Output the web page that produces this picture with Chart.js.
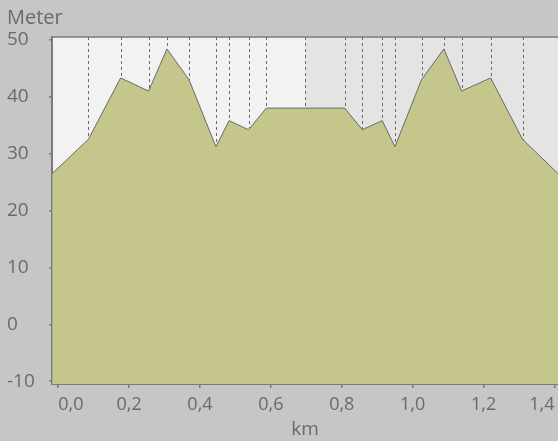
<!DOCTYPE html>
<html lang="de">
<head>
<meta charset="UTF-8">
<title>Höhenprofil</title>
<script src="https://cdn.jsdelivr.net/npm/chart.js@4.4.1/dist/chart.umd.min.js"></script>
<style>
  html, body { margin: 0; padding: 0; background: #c6c6c6; }
  #board { width: 558px; height: 441px; }
</style>
</head>
<body>
<div id="board"><canvas id="profil" width="558" height="441"></canvas></div>
<script>
// distance (km) and elevation (m) along the loop
const dist = [-0.017, 0.085, 0.176, 0.255, 0.307, 0.369, 0.445, 0.482, 0.537, 0.587, 0.697,
              0.808, 0.858, 0.914, 0.950, 1.025, 1.088, 1.138, 1.220, 1.310, 1.410];
const elev = [26.5, 32.5, 43.3, 41.0, 48.4, 43.0, 31.2, 35.8, 34.2, 38.0, 38.0,
              38.0, 34.2, 35.8, 31.2, 43.0, 48.4, 41.0, 43.3, 32.5, 26.5];
const turnIndex = 10;  // turnaround point, second half is shaded
const xTicks = [0, 0.2, 0.4, 0.6, 0.8, 1.0, 1.2, 1.4];
const yTicks = [-10, 0, 10, 20, 30, 40, 50];

const FONT = "'Open Sans', 'DejaVu Sans', sans-serif";
const TXT = '#6a6a6a';
const AXIS = '#7a7a7a';

// backgrounds, top border, waypoint lines, "Meter" label
const decor = {
  id: 'decor',
  beforeDraw(chart) {
    const { ctx, chartArea: a, scales } = chart;
    ctx.save();
    ctx.fillStyle = '#c6c6c6';
    ctx.fillRect(0, 0, chart.width, chart.height);
    ctx.fillStyle = '#f2f2f2';
    ctx.fillRect(a.left, a.top, a.right - a.left, a.bottom - a.top);
    const xm = scales.x.getPixelForValue(dist[turnIndex]);
    ctx.fillStyle = '#e4e4e4';
    ctx.fillRect(xm, a.top, a.right - xm, a.bottom - a.top);

    ctx.fillStyle = TXT;
    ctx.font = "20px " + FONT;
    ctx.textBaseline = 'alphabetic';
    ctx.textAlign = 'left';
    ctx.fillText('Meter', 7, 24);
    ctx.restore();
  },
  beforeDatasetsDraw(chart) {
    const { ctx, chartArea: a, scales } = chart;
    ctx.save();
    ctx.strokeStyle = '#6a6a6a';
    ctx.lineWidth = 1;
    ctx.setLineDash([3, 3]);
    for (let i = 1; i < dist.length - 1; i++) {
      const x = Math.round(scales.x.getPixelForValue(dist[i])) + 0.5;
      ctx.beginPath();
      ctx.moveTo(x, a.top);
      ctx.lineTo(x, a.bottom);
      ctx.stroke();
    }
    ctx.restore();
  },
  afterDatasetsDraw(chart) {
    const { ctx, chartArea: a } = chart;
    ctx.save();
    ctx.strokeStyle = AXIS;
    ctx.lineWidth = 1.5;
    ctx.beginPath();
    ctx.moveTo(a.left, a.top);
    ctx.lineTo(a.right, a.top);
    ctx.stroke();
    ctx.restore();
  }
};

new Chart(document.getElementById('profil'), {
  type: 'line',
  data: {
    datasets: [{
      data: dist.map((d, i) => ({ x: d, y: elev[i] })),
      borderColor: '#6a6a6a',
      borderWidth: 1,
      backgroundColor: '#c5c68c',
      fill: 'start',
      pointRadius: 0,
      tension: 0
    }]
  },
  options: {
    responsive: false,
    animation: false,
    layout: { padding: { left: 7, top: 37, right: 0, bottom: 0 } },
    plugins: { legend: { display: false }, tooltip: { enabled: false } },
    scales: {
      x: {
        type: 'linear',
        min: -0.0175,
        max: 1.41,
        afterFit: s => { s.height = 57; s.paddingLeft = 0; s.paddingRight = 0; },
        afterBuildTicks: s => { s.ticks = xTicks.map(v => ({ value: v })); },
        grid: { drawOnChartArea: false, drawTicks: true, tickLength: 4, color: AXIS, lineWidth: 1.5 },
        border: { display: true, color: AXIS, width: 2 },
        ticks: {
          align: 'inner',
          padding: 6,
          color: TXT,
          font: { family: FONT, size: 18 },
          callback: v => v.toFixed(1).replace('.', ',')
        },
        title: {
          display: true,
          text: 'km',
          color: TXT,
          font: { family: FONT, size: 19 },
          padding: 0
        }
      },
      y: {
        min: -10.5,
        max: 50.5,
        afterFit: s => { s.width = 45; },
        afterBuildTicks: s => { s.ticks = yTicks.map(v => ({ value: v })); },
        grid: { drawOnChartArea: false, drawTicks: true, tickLength: 3, color: AXIS, lineWidth: 1.5 },
        border: { display: true, color: AXIS, width: 2 },
        ticks: {
          crossAlign: 'far',
          color: TXT,
          font: { family: FONT, size: 19 },
          callback: v => String(v)
        }
      }
    }
  },
  plugins: [decor]
});
</script>
</body>
</html>
